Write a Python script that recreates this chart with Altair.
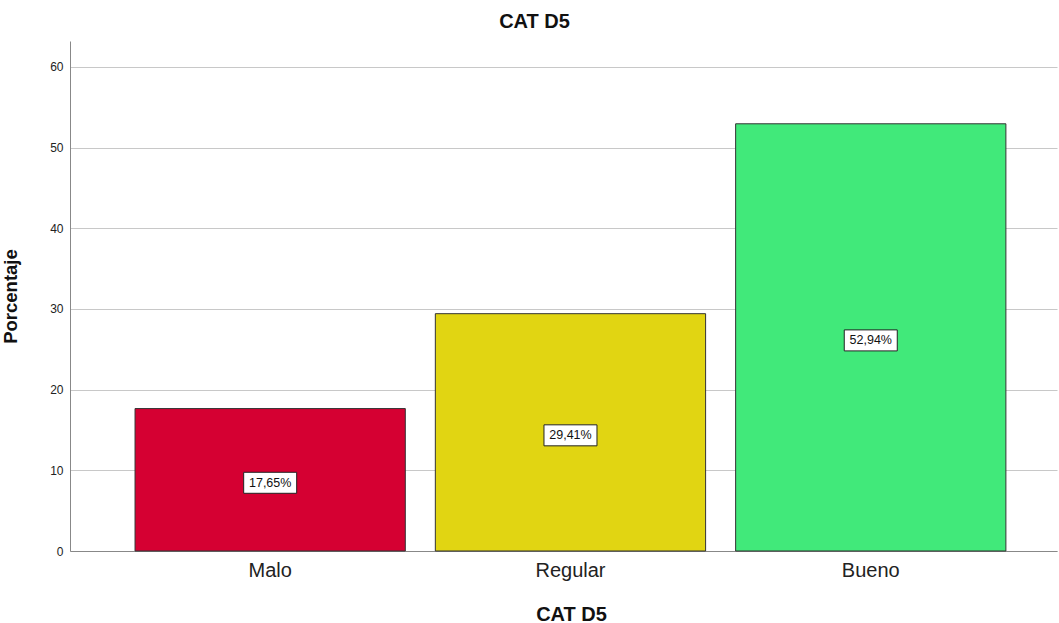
import altair as alt
import pandas as pd

categories = ["Malo", "Regular", "Bueno"]
values = [17.65, 29.41, 52.94]
labels = ["17,65%", "29,41%", "52,94%"]
colors = ["#D50032", "#E1D512", "#41E97A"]

df = pd.DataFrame({"cat": categories, "pct": values, "label": labels})
df["mid"] = df["pct"] / 2

xscale = alt.Scale(paddingInner=0.1, paddingOuter=0.1934, align=0.56)

x = alt.X("cat:N", sort=categories, title="CAT D5", scale=xscale,
          axis=alt.Axis(labelAngle=0, labelFontSize=20, labelColor="#222222",
                        labelFont="Liberation Sans", labelPadding=9,
                        ticks=False, domainColor="#888888", domainWidth=1,
                        titleFont="Liberation Sans", titleFontSize=20,
                        titleFontWeight="bold", titleColor="#111111",
                        titlePadding=24, titleX=501))
y = alt.Y("pct:Q", title="Porcentaje",
          scale=alt.Scale(domain=[0, 63.2], nice=False, zero=True),
          axis=alt.Axis(values=[0, 10, 20, 30, 40, 50, 60], format="d",
                        labelFontSize=12, labelColor="#222222", labelFont="Liberation Sans",
                        ticks=False, labelPadding=7, domainColor="#888888",
                        grid=True, gridColor="#C8C8C8", gridWidth=1,
                        titleFont="Liberation Sans", titleFontSize=18.5,
                        titleFontWeight="bold", titleColor="#111111",
                        titleX=-50))

bars = alt.Chart(df).mark_bar(stroke="#333333", strokeWidth=1).encode(
    x=x, y=y,
    color=alt.Color("cat:N", sort=categories,
                    scale=alt.Scale(domain=categories, range=colors), legend=None),
)

boxes = alt.Chart(df).mark_rect(width=53, height=21, fill="white", stroke="#222222",
                                strokeWidth=1).encode(
    x=alt.X("cat:N", sort=categories, scale=xscale), y=alt.Y("mid:Q"), yOffset=alt.value(3))

texts = alt.Chart(df).mark_text(fontSize=12.5, font="Liberation Sans", color="#111111",
                                dy=3).encode(
    x=alt.X("cat:N", sort=categories, scale=xscale), y=alt.Y("mid:Q"), text="label:N")

chart = alt.layer(bars, boxes, texts).properties(
    width=987, height=510,
    title=alt.TitleParams("CAT D5", font="Liberation Sans", fontSize=20,
                          fontWeight="bold", color="#111111", offset=9, dx=-29),
    autosize=alt.AutoSizeParams(type="none"),
    padding={"left": 70, "top": 41, "right": 2, "bottom": 72},
).configure_view(stroke=None).configure_axis(domainColor="#888888")

chart.save("out.html", embed_options={"renderer": "svg", "actions": False})
